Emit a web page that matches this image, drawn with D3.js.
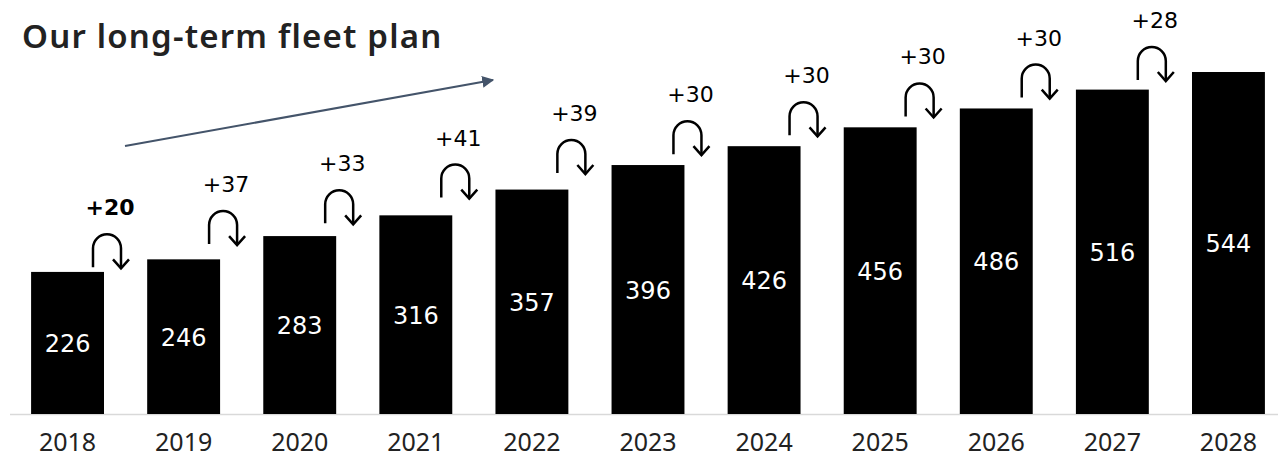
<!DOCTYPE html>
<html>
<head>
<meta charset="utf-8">
<script src="https://d3js.org/d3.v7.min.js"></script>
<style>
  body { margin: 0; background: #fff; }
  svg { display: block; }
</style>
</head>
<body>
<script>
// fleet size per year, and the yearly additions shown above the bars
const years = ['2018','2019','2020','2021','2022','2023','2024','2025','2026','2027','2028'];
const fleet = [226, 246, 283, 316, 357, 396, 426, 456, 486, 516, 544];
const added = ['+20','+37','+33','+41','+39','+30','+30','+30','+30','+28'];

const w = 1278, h = 459;
const svg = d3.select('body').append('svg')
  .attr('width', w)
  .attr('height', h);

svg.append('defs').append('marker')
  .attr('id', 'trendHead')
  .attr('viewBox', '0 0 10 10')
  .attr('refX', 9).attr('refY', 5)
  .attr('markerWidth', 6).attr('markerHeight', 6)
  .attr('markerUnits', 'strokeWidth')
  .attr('orient', 'auto')
  .append('path')
  .attr('d', 'M0,0 L10,5 L0,10 Z')
  .attr('fill', '#44546a');

const xScale = d3.scaleBand()
  .domain(years)
  .range([9.5, 1286.5])
  .paddingInner(0.372)
  .paddingOuter(0.186);

const yScale = d3.scaleLinear()
  .domain([0, 544])
  .range([414, 72]);

// title
svg.append('text')
  .attr('x', 22)
  .attr('y', 48)
  .attr('font-family', '"Noto Sans", sans-serif')
  .attr('font-weight', 600)
  .attr('font-size', 33)
  .attr('letter-spacing', 1.2)
  .attr('fill', '#222')
  .text('Our long-term fleet plan');

// trend arrow
svg.append('line')
  .attr('x1', 125).attr('y1', 146)
  .attr('x2', 493).attr('y2', 80)
  .attr('stroke', '#44546a')
  .attr('stroke-width', 2)
  .attr('marker-end', 'url(#trendHead)');

// x axis
const xAxis = d3.axisBottom(xScale).tickSize(0).tickSizeOuter(0);
const gx = svg.append('g')
  .attr('transform', 'translate(0,414)')
  .call(xAxis);
gx.select('.domain').attr('stroke', '#d9d9d9').attr('stroke-width', 1.5);
gx.selectAll('text')
  .attr('y', 37)
  .attr('dy', 0)
  .attr('font-family', '"Noto Sans", sans-serif')
  .attr('font-size', 25)
  .attr('fill', '#222');

// bars
svg.selectAll('rect.bar')
  .data(fleet)
  .enter()
  .append('rect')
  .attr('class', 'bar')
  .attr('x', (d, i) => xScale(years[i]))
  .attr('y', d => yScale(d))
  .attr('width', xScale.bandwidth())
  .attr('height', d => yScale(0) - yScale(d))
  .attr('fill', '#000');

svg.selectAll('text.val')
  .data(fleet)
  .enter()
  .append('text')
  .attr('class', 'val')
  .attr('x', (d, i) => xScale(years[i]) + xScale.bandwidth() / 2)
  .attr('y', d => (yScale(d) + yScale(0)) / 2 + 9)
  .attr('text-anchor', 'middle')
  .attr('font-family', '"DejaVu Sans", sans-serif')
  .attr('font-size', 24)
  .attr('fill', '#fff')
  .text(d => d);

// curved step arrows between bars
const r = 14;
const steps = svg.selectAll('g.step')
  .data(added)
  .enter()
  .append('g')
  .attr('class', 'step');

steps.each(function(d, i) {
  const g = d3.select(this);
  const cx = xScale(years[i]) + xScale.bandwidth() + 3;
  const tip = yScale(fleet[i + 1]) + 9;
  g.append('path')
    .attr('d', `M${cx - r},${tip - 1} V${tip - 20} A${r},${r} 0 0 1 ${cx + r},${tip - 20} V${tip}`)
    .attr('fill', 'none')
    .attr('stroke', '#000')
    .attr('stroke-width', 2.5);
  g.append('path')
    .attr('d', `M${cx + r - 8},${tip - 9} L${cx + r},${tip} L${cx + r + 8},${tip - 9}`)
    .attr('fill', 'none')
    .attr('stroke', '#000')
    .attr('stroke-width', 2.5);
  g.append('text')
    .attr('x', cx + 3)
    .attr('y', tip - 53)
    .attr('text-anchor', 'middle')
    .attr('font-family', '"DejaVu Sans", sans-serif')
    .attr('font-size', 22)
    .attr('font-weight', i === 0 ? 700 : 400)
    .attr('fill', '#000')
    .text(d);
});
</script>
</body>
</html>
